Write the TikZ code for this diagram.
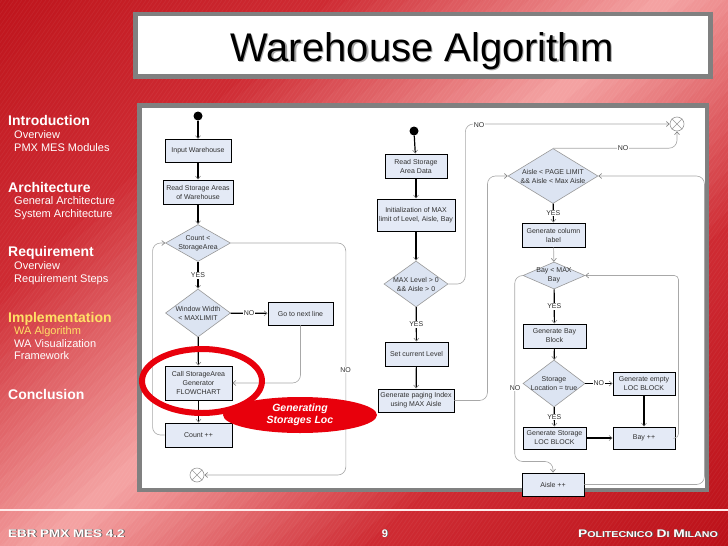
\documentclass[tikz,border=0pt]{standalone}
\usepackage{fontspec}
\setmainfont{Liberation Sans}
\usetikzlibrary{shapes.geometric, arrows.meta}
\definecolor{cA}{HTML}{BA0E16}
\definecolor{cB}{HTML}{CE2A32}
\definecolor{cC}{HTML}{F4A2A2}
\definecolor{boxfill}{HTML}{E4EAF6}
\definecolor{diafill}{HTML}{DCE4F2}
\definecolor{framegray}{HTML}{808080}
\definecolor{hired}{HTML}{E8000C}
\definecolor{sideyellow}{HTML}{FFE066}
\definecolor{loopgray}{HTML}{A8A8A8}
\definecolor{txt}{HTML}{303030}
\begin{document}
\begin{tikzpicture}[x=1pt,y=-1pt,
  fbox/.style={rectangle, draw=black, line width=0.9pt, fill=boxfill, font=\fontsize{7}{9}\selectfont, text=txt, align=center, inner sep=1pt},
  fdia/.style={diamond, draw=gray!80, line width=0.6pt, fill=diafill, inner sep=0pt},
  dtext/.style={font=\fontsize{7}{9}\selectfont, text=txt, align=center, inner sep=0pt},
  lbl/.style={font=\fontsize{7}{8}\selectfont, text=txt, fill=white, inner sep=0.8pt},
  tipv/.style={-{Straight Barb[length=3pt,width=5pt,color=gray,line width=0.6pt]}},
  mainl/.style={draw=black, line width=1.2pt, tipv},
  loopl/.style={draw=loopgray, line width=0.6pt, rounded corners=8pt, tipv},
  startdot/.style={circle, fill=black, inner sep=0pt, minimum size=9pt},
  enddot/.style={circle, draw=gray!80, fill=white, line width=0.6pt, inner sep=0pt, minimum size=14pt},
  sidehead/.style={font=\bfseries\fontsize{14}{16}\selectfont, text=white, anchor=base west, inner sep=0pt},
  sidesub/.style={font=\fontsize{11}{13}\selectfont, text=white, anchor=base west, inner sep=0pt},
  foot/.style={font=\bfseries\fontsize{11}{13}\selectfont, anchor=base, inner sep=0pt, text=white}
]
\useasboundingbox (0,0) rectangle (728,546);
% background: diagonal gradient built from strips
\begin{scope}
\clip (0,0) rectangle (728,546);
\begin{scope}[y=1pt, rotate around={-48.6:(310,-273)}]
\foreach \s in {-480,-470,...,-210} {\pgfmathsetmacro\p{(\s+480)/270*100}\fill[cB!\p!cA] (310+\s,-1030) rectangle (320.6+\s,500);}
\foreach \s in {-200,-190,...,20} {\pgfmathsetmacro\p{(\s+200)/220*100}\fill[cC!\p!cB] (310+\s,-1030) rectangle (320.6+\s,500);}
\foreach \s in {30,40,...,240} {\pgfmathsetmacro\p{(\s-30)/210*100}\fill[cB!\p!cC] (310+\s,-1030) rectangle (320.6+\s,500);}
\foreach \s in {250,260,...,500} {\pgfmathsetmacro\p{(\s-250)/250*100}\fill[cA!\p!cB] (310+\s,-1030) rectangle (320.6+\s,500);}
\end{scope}
\foreach \i in {-400,-396,...,728} \draw[white, opacity=0.05, line width=0.7pt] (\i,546) -- ++(382,-546);
\end{scope}
% footer line
\draw[line width=2pt, color=red!8!white] (0,509.5) -- (728,509.5);
% title box
\draw[draw=framegray, line width=4.5pt, fill=white] (135.5,14) rectangle (710.5,76.5);
\node[font=\fontsize{40}{48}\selectfont, text=black, anchor=base, inner sep=0pt] (title) at (422,61) {\makebox[0pt][l]{\raisebox{-1.3pt}{\hspace{1.3pt}\color{gray!70}Warehouse Algorithm}}Warehouse Algorithm};
% content box
\draw[draw=framegray, line width=4.5pt, fill=white] (139.5,105.5) rectangle (707,490);
% sidebar
\node[sidehead] (s1h) at (8,125) {Introduction};
\node[sidesub] (s1a) at (14,138) {Overview};
\node[sidesub] (s1b) at (14,151) {PMX MES Modules};
\node[sidehead] (s2h) at (8,192) {Architecture};
\node[sidesub] (s2a) at (14,204) {General Architecture};
\node[sidesub] (s2b) at (14,217) {System Architecture};
\node[sidehead] (s3h) at (8,256) {Requirement};
\node[sidesub] (s3a) at (14,269) {Overview};
\node[sidesub] (s3b) at (14,282) {Requirement Steps};
\node[sidehead, text=sideyellow] (s4h) at (8,322) {Implementation};
\node[sidesub, text=sideyellow] (s4a) at (14,334) {WA Algorithm};
\node[sidesub] (s4b) at (14,347) {WA Visualization};
\node[sidesub] (s4c) at (14,359) {Framework};
\node[sidehead] (s5h) at (8,399) {Conclusion};
% footer
\node[foot, anchor=base west] (f1) at (8,537) {\scalebox{1.22}[1]{\makebox[0pt][l]{\raisebox{-0.8pt}{\hspace{0.8pt}\color{black!65}EBR PMX MES 4.2}}EBR PMX MES 4.2}};
\node[foot] (f2) at (385,537) {\makebox[0pt][l]{\raisebox{-0.8pt}{\hspace{0.8pt}\color{black!65}9}}9};
\node[foot, anchor=base east] (f3) at (718,537) {\scalebox{1.25}[1]{\makebox[0pt][l]{\raisebox{-0.8pt}{\hspace{0.8pt}\color{black!65}P{\fontsize{8.5}{10}\selectfont OLITECNICO} D{\fontsize{8.5}{10}\selectfont I} M{\fontsize{8.5}{10}\selectfont ILANO}}}P{\fontsize{8.5}{10}\selectfont OLITECNICO} D{\fontsize{8.5}{10}\selectfont I} M{\fontsize{8.5}{10}\selectfont ILANO}}};

% ---------- column 1
\node[startdot] (st1) at (198,116) {};
\node[fbox, minimum width=66pt, minimum height=23pt] (b1) at (198,151) {Input Warehouse};
\node[fbox, minimum width=70pt, minimum height=24pt] (b2) at (198,192) {Read Storage Areas\\of Warehouse};
\node[fdia, minimum width=65pt, minimum height=37pt] (d1) at (198,243) {};
\node[dtext] (d1t) at (198,243) {Count <\\StorageArea};
\node[fdia, minimum width=65pt, minimum height=48pt] (d2) at (198,313) {};
\node[dtext] (d2t) at (198,313) {Window Width\\< MAXLIMIT};
\node[fbox, minimum width=65pt, minimum height=23pt] (b3) at (300.5,313.5) {Go to next line};
\node[fbox, minimum width=67pt, minimum height=34pt] (b4) at (198.5,383) {Call StorageArea\\Generator\\FLOWCHART};
\node[fbox, minimum width=67pt, minimum height=24pt] (b5) at (198.5,435) {Count ++};
\node[enddot] (e1) at (197,475) {};
\draw[gray!80, line width=0.6pt] (e1.north west) -- (e1.south east) (e1.north east) -- (e1.south west);

\draw[mainl] (st1) -- (b1);
\draw[mainl] (b1) -- (b2);
\draw[mainl] (b2) -- (d1);
\draw[mainl] (d1) -- node[lbl] (y1) {YES} (d2);
\draw[mainl] (d2) -- node[lbl] (n2) {NO} (b3);
\draw[mainl] (d2) -- (b4);
\draw[mainl] (b4) -- (b5);
\draw[loopl] (b5.west) -- ++(-12,0) |- (d1.west);
\draw[loopl] (d1.east) -- ++(115,0) |- (e1.east);
\node[lbl] (n1) at (345.5,370) {NO};
\draw[loopl] (b3.south) |- (b4.east);

% ---------- column 2
\node[startdot] (st2) at (414,131) {};
\node[fbox, minimum width=62pt, minimum height=24pt] (b6) at (416,166) {Read Storage\\Area Data};
\node[fbox, minimum width=78pt, minimum height=32pt] (b7) at (416,215) {Initialization of MAX\\limit of Level, Aisle, Bay};
\node[fdia, minimum width=64pt, minimum height=46pt] (d3) at (416,284) {};
\node[dtext] (d3t) at (416,284) {MAX Level > 0\\\&\& Aisle > 0};
\node[fbox, minimum width=63pt, minimum height=24pt] (b8) at (416.5,354) {Set current Level};
\node[fbox, minimum width=76pt, minimum height=23pt] (b9) at (416,400.5) {Generate paging Index\\using MAX Aisle};
\node[enddot] (e2) at (677,124) {};
\draw[gray!80, line width=0.6pt] (e2.north west) -- (e2.south east) (e2.north east) -- (e2.south west);

\draw[mainl] (st2) -- (b6);
\draw[mainl] (b6) -- (b7);
\draw[mainl] (b7) -- (d3);
\draw[mainl] (d3) -- node[lbl] (y3) {YES} (b8);
\draw[mainl] (b8) -- (b9);
\draw[loopl] (d3.east) -- ++(17,0) |- (e2.west);
\node[lbl] (n3) at (479,125) {NO};

% ---------- column 3
\node[fdia, minimum width=90pt, minimum height=55pt] (d4) at (553,176) {};
\node[dtext] (d4t) at (553,176) {Aisle < PAGE LIMIT\\\&\& Aisle < Max Aisle};
\node[fbox, minimum width=63pt, minimum height=24pt] (b10) at (553.5,235) {Generate column\\label};
\node[fdia, minimum width=62pt, minimum height=27pt] (d5) at (554,275.5) {};
\node[dtext] (d5t) at (554,275.5) {Bay < MAX\\Bay};
\node[fbox, minimum width=63pt, minimum height=24pt] (b11) at (554.5,336) {Generate Bay\\Block};
\node[fdia, minimum width=62pt, minimum height=47pt] (d6) at (554,383.5) {};
\node[dtext] (d6t) at (554,383.5) {Storage\\Location = true};
\node[fbox, minimum width=62pt, minimum height=23pt] (b12) at (644,383.5) {Generate empty\\LOC BLOCK};
\node[fbox, minimum width=63pt, minimum height=22pt] (b13) at (554.5,438) {Generate Storage\\LOC BLOCK};
\node[fbox, minimum width=62pt, minimum height=22pt] (b14) at (644,438) {Bay ++};
\node[fbox, minimum width=62pt, minimum height=23pt] (b15) at (553,484.5) {Aisle ++};

\draw[loopl] (b9.east) -- ++(33,0) |- (d4.west);
\draw[loopl] (d4.north) -| (e2.south);
\node[lbl] (n4) at (623,148) {NO};
\draw[mainl] (d4) -- node[lbl] (y4) {YES} (b10);
\draw[loopl] (b10) -- (d5);
\draw[mainl] (d5) -- node[lbl] (y5) {YES} (b11);
\draw[mainl] (b11) -- (d6);
\draw[mainl] (d6) -- node[lbl] (n6) {NO} (b12);
\draw[mainl] (d6) -- node[lbl] (y6) {YES} (b13);
\draw[mainl] (b13) -- (b14);
\draw[mainl] (b12) -- (b14);
\draw[loopl, rounded corners=4pt] (b14.east) -- ++(3,0) |- (d5.east);
\draw[loopl] (d5.west) -| ++(-8,186) -| (b15.north);
\node[lbl] (n5) at (515,388) {NO};
\draw[loopl] (b15.east) -- ++(120,0) |- (d4.east);

% highlight
\node[ellipse, draw=hired, line width=6pt, minimum width=120pt, minimum height=64pt, inner sep=0pt] (hl) at (202,381) {};
\node[ellipse, fill=hired, minimum width=154pt, minimum height=36pt, inner sep=0pt, font=\bfseries\itshape\fontsize{10.5}{12}\selectfont, text=white, align=center] (gen) at (300,415) {Generating\\Storages Loc};
\end{tikzpicture}
\end{document}
